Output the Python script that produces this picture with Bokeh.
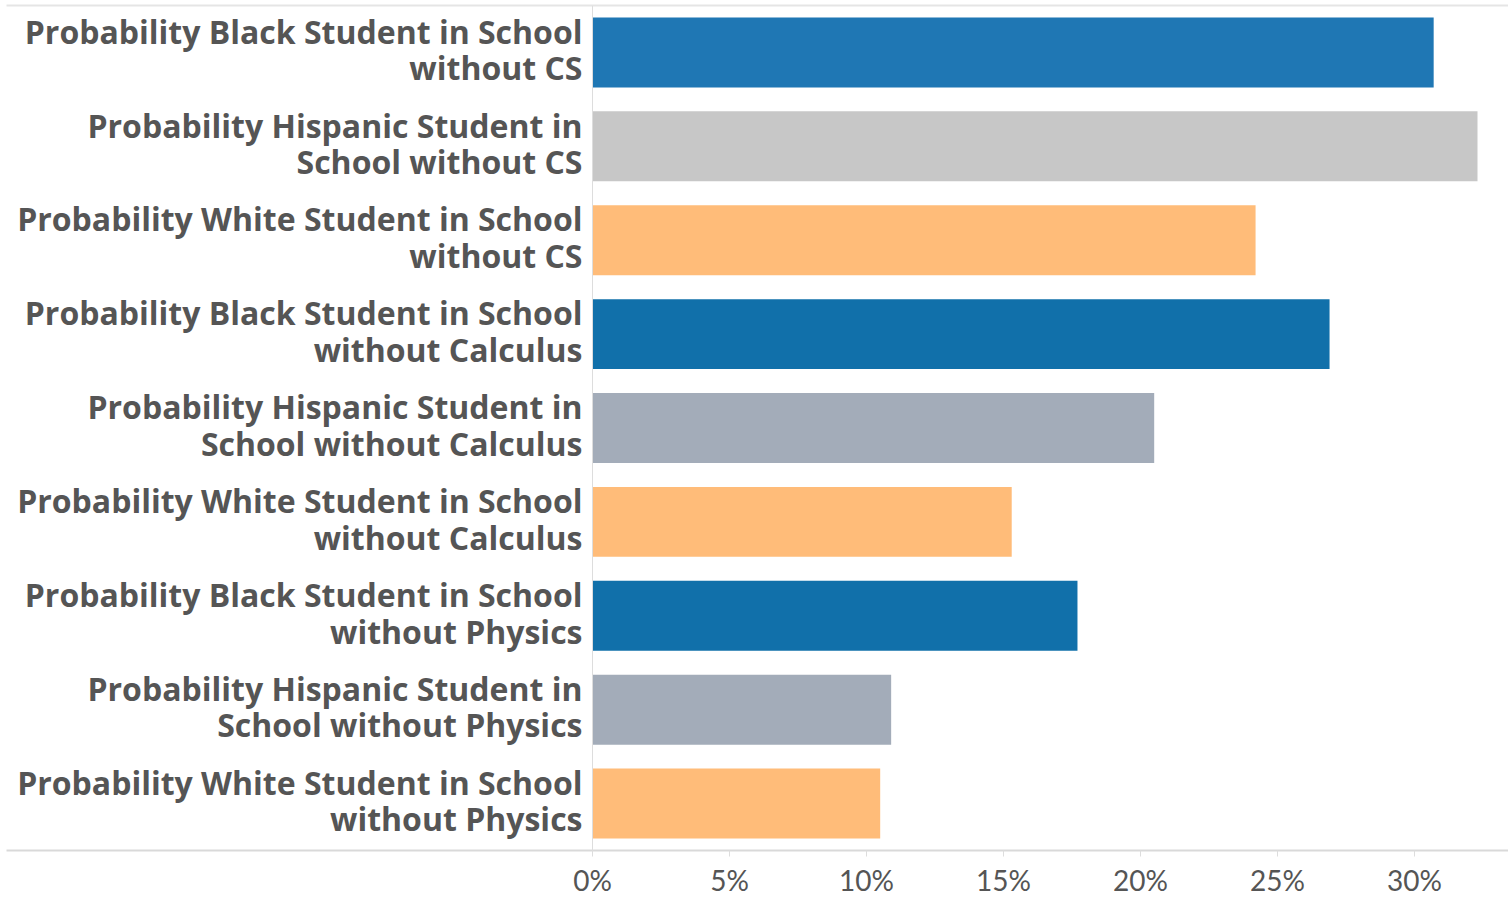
from bokeh.plotting import figure
from bokeh.models import FactorRange, Range1d, FixedTicker, NumeralTickFormatter, LinearAxis, Span, ColumnDataSource
from bokeh.core.properties import value
from bokeh.embed import file_html
from bokeh.resources import INLINE

categories = [
    "Probability Black Student in School\nwithout CS",
    "Probability Hispanic Student in\nSchool without CS",
    "Probability White Student in School\nwithout CS",
    "Probability Black Student in School\nwithout Calculus",
    "Probability Hispanic Student in\nSchool without Calculus",
    "Probability White Student in School\nwithout Calculus",
    "Probability Black Student in School\nwithout Physics",
    "Probability Hispanic Student in\nSchool without Physics",
    "Probability White Student in School\nwithout Physics",
]
values = [0.307, 0.323, 0.242, 0.269, 0.205, 0.153, 0.177, 0.109, 0.105]
bar_colors = ["#1f77b4", "#c7c7c7", "#ffbc79", "#1170aa", "#a3acb9",
              "#ffbc79", "#1170aa", "#a3acb9", "#ffbc79"]
tick_values = [0, 0.05, 0.10, 0.15, 0.20, 0.25, 0.30]

src = ColumnDataSource(dict(cat=categories, val=values, color=bar_colors,
                            zero=[0] * len(categories)))

p = figure(
    y_range=FactorRange(*list(reversed(categories)), range_padding=0),
    x_range=Range1d(-0.21387, 0.33431),
    frame_width=1502, frame_height=845,
    min_border_left=6, min_border_right=0, min_border_top=5, min_border_bottom=0,
    output_backend="svg", toolbar_location=None,
)
p.outline_line_color = None
p.background_fill_color = "white"
p.border_fill_color = "white"

p.hbar(y="cat", left=0, right="val", height=0.745, color="color", source=src,
       line_color=None)

p.text(x="zero", y="cat", text="cat", source=src, x_offset=-10, y_offset=-3,
       text_align="right", text_baseline="middle",
       text_font=value("Open Sans"), text_font_style="bold", text_font_size="32px",
       text_color="#555555", text_line_height=0.85)

p.add_layout(Span(location=0, dimension="height", line_color="#dddddd", line_width=1))

p.yaxis.visible = False
p.xgrid.visible = False
p.ygrid.visible = False

ax = p.xaxis[0]
ax.ticker = FixedTicker(ticks=tick_values)
ax.formatter = NumeralTickFormatter(format="0%")
ax.axis_line_color = "#d9d9d9"
ax.axis_line_width = 2
ax.major_tick_line_color = "#dddddd"
ax.major_tick_in = 0
ax.major_tick_out = 6
ax.minor_tick_line_color = None
ax.major_label_text_font = "Lato"
ax.major_label_text_font_size = "28px"
ax.major_label_text_color = "#555555"
ax.major_label_standoff = 6

top = LinearAxis(ticker=FixedTicker(ticks=[]), major_label_text_font_size="0px",
                 axis_line_color="#e5e5e5", axis_line_width=2)
top.minor_tick_line_color = None
p.add_layout(top, "above")

open("out.html", "w").write(file_html(p, INLINE))
